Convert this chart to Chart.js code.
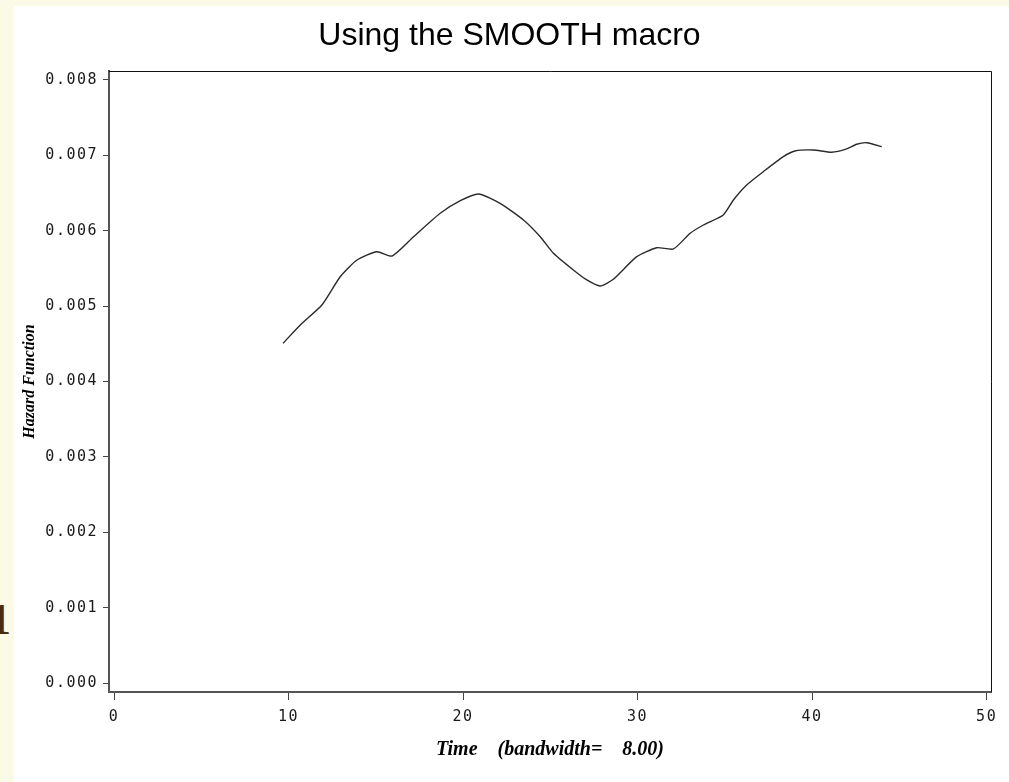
<!DOCTYPE html>
<html>
<head>
<meta charset="utf-8">
<script src="https://cdn.jsdelivr.net/npm/chart.js@4"></script>
<style>
  html, body { margin: 0; padding: 0; }
  body { width: 1009px; height: 782px; background: #FAFAE6; position: relative; overflow: hidden; }
  #panel { position: absolute; left: 14px; top: 6px; width: 995px; height: 776px; background: #ffffff; }
  #mark { position: absolute; left: -11px; top: 598px; font: bold 44px/44px "Liberation Serif", serif; color: #4A2A10; }
</style>
</head>
<body>
<div id="mark">1</div>
<div id="panel"><canvas id="c" width="995" height="776"></canvas></div>
<script>
const chartTitle = 'Using the SMOOTH macro';
const xTitle = 'Time    (bandwidth=    8.00)';
const yTitle = 'Hazard Function';
const xTicks = [0, 10, 20, 30, 40, 50];
const yTicks = [0, 0.001, 0.002, 0.003, 0.004, 0.005, 0.006, 0.007, 0.008];
const times = [9.68, 10.77, 11.91, 12.96, 13.92, 15.06, 15.92, 17.16, 18.69, 19.84, 20.88, 22.12, 23.46, 24.42, 25.18, 26.32, 27.09, 27.85, 28.61, 29.95, 31.10, 32.05, 33.01, 33.77, 34.91, 35.49, 36.25, 37.20, 38.35, 39.02, 40.07, 41.12, 41.98, 42.55, 43.13, 43.99];
const hazard = [0.004507, 0.004772, 0.005015, 0.005390, 0.005612, 0.005722, 0.005665, 0.005921, 0.006232, 0.006399, 0.006488, 0.006364, 0.006143, 0.005921, 0.005701, 0.005479, 0.005347, 0.005267, 0.005356, 0.005656, 0.005775, 0.005758, 0.005966, 0.006076, 0.006209, 0.006408, 0.006607, 0.006783, 0.006983, 0.007058, 0.007071, 0.007041, 0.007085, 0.007147, 0.007168, 0.007115];

const tickFont = { family: '"DejaVu Sans Mono", monospace', size: 15 };

const decor = {
  id: 'decor',
  beforeDraw(chart) {
    chart.ctx.letterSpacing = '1.5px';
  },
  afterDraw(chart) {
    const ctx = chart.ctx;
    const a = chart.chartArea;
    ctx.save();
    ctx.letterSpacing = '0px';
    // top and right frame
    ctx.strokeStyle = '#111';
    ctx.lineWidth = 1;
    ctx.beginPath();
    ctx.moveTo(a.left, a.top + 0.5);
    ctx.lineTo(a.right + 0.5, a.top + 0.5);
    ctx.lineTo(a.right + 0.5, a.bottom);
    ctx.stroke();
    // title
    ctx.fillStyle = '#000';
    ctx.font = '32px "Liberation Sans", Arial, sans-serif';
    ctx.textAlign = 'center';
    ctx.textBaseline = 'alphabetic';
    ctx.fillText(chartTitle, chart.width / 2 - 2, 39);
    // x title
    ctx.font = 'italic bold 20px "Liberation Serif", serif';
    ctx.fillText(xTitle, (a.left + a.right) / 2, a.bottom + 63);
    // y title
    ctx.translate(16, (a.top + a.bottom) / 2);
    ctx.rotate(-Math.PI / 2);
    ctx.font = 'italic bold 16px "Liberation Serif", serif';
    ctx.textBaseline = 'middle';
    ctx.fillText(yTitle, 0, 0);
    ctx.restore();
  }
};

new Chart(document.getElementById('c'), {
  type: 'line',
  data: {
    datasets: [{
      data: times.map((t, i) => ({ x: t, y: hazard[i] })),
      borderColor: '#2a2a2a',
      borderWidth: 1.4,
      pointRadius: 0,
      tension: 0.2,
      fill: false
    }]
  },
  options: {
    responsive: false,
    animation: false,
    events: [],
    layout: { padding: { top: 65, right: 18, left: 0, bottom: 0 } },
    plugins: { legend: { display: false }, tooltip: { enabled: false }, title: { display: false } },
    scales: {
      x: {
        type: 'linear',
        min: -0.29,
        max: 50.25,
        afterBuildTicks: s => { s.ticks = xTicks.map(v => ({ value: v })); },
        afterFit: s => { s.height = 90; },
        grid: { display: true, drawOnChartArea: false, drawTicks: true, tickLength: 8, color: '#444', lineWidth: 1 },
        border: { display: true, color: '#555', width: 2 },
        ticks: { font: tickFont, color: '#1a1a1a', padding: 8, maxRotation: 0, autoSkip: false, callback: v => String(v) }
      },
      y: {
        type: 'linear',
        min: -0.000119,
        max: 0.008119,
        afterBuildTicks: s => { s.ticks = yTicks.map(v => ({ value: v })); },
        afterFit: s => { s.width = 95; },
        grid: { display: true, drawOnChartArea: false, drawTicks: true, tickLength: 6, color: '#444', lineWidth: 1 },
        border: { display: true, color: '#555', width: 2 },
        ticks: { font: tickFont, color: '#1a1a1a', padding: 5, autoSkip: false, callback: v => v.toFixed(3) }
      }
    }
  },
  plugins: [decor]
});
</script>
</body>
</html>
